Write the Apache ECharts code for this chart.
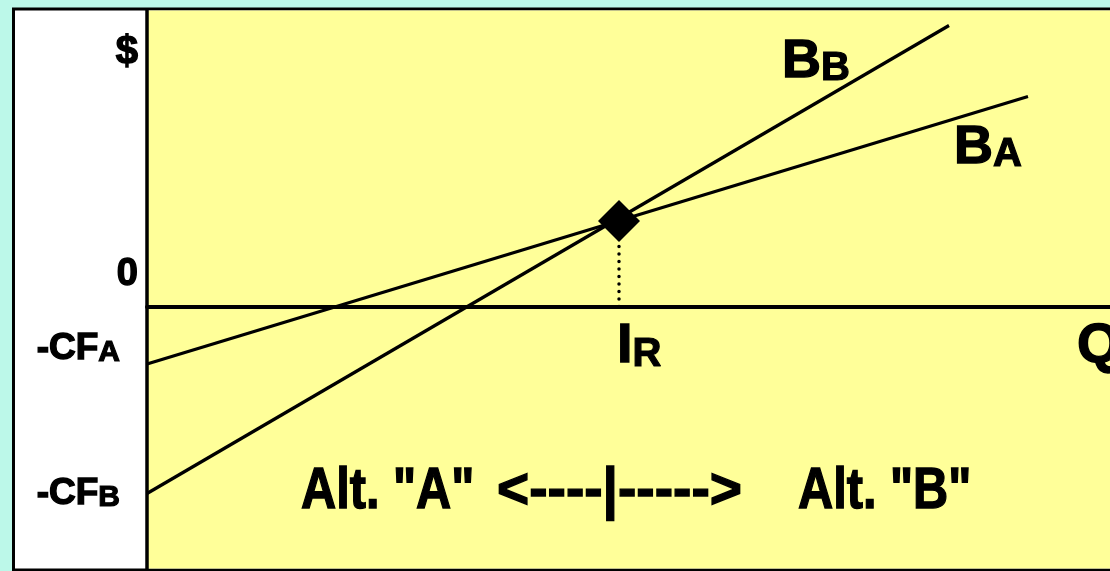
<!DOCTYPE html>
<html><head><meta charset="utf-8">
<script src="https://cdn.jsdelivr.net/npm/echarts@6/dist/echarts.min.js"></script>
<style>html,body{margin:0;padding:0;background:#bcf8e9}#c{width:1110px;height:571px}</style>
</head><body><div id="c"></div><script>
// Axis ranges (arbitrary units: quantity Q on x, $ on y)
const xRange = [0, 96.3];
const yRange = [-26.25, 29.65];
// Benefit lines of the two alternatives
const lineA = [[0, -5.75], [88.1, 21.0]];
const lineB = [[0, -18.7], [80.2, 28.1]];
// Indifference (break-even) point
const breakEven = [[47.2, 8.55]];
const dropLine = [[47.2, 0], [47.2, 8.55]];
// Text labels ("^" separates a subscript)
const yLabels = ['$', '0', '-CF^A', '-CF^B'];
const curveLabels = ['B^B', 'B^A'];
const xLabels = ['I^R', 'Q'];
const bottomTexts = ['Alt. "A"', '<----|----->', 'Alt. "B"'];

const FF = "'Liberation Sans', Arial, sans-serif";
const chart = echarts.init(document.getElementById('c'), null, {renderer: 'canvas'});

function sub(s, big, small) {
  const p = s.split('^');
  const a = {fontSize: big, fontWeight: 'bold', fontFamily: FF, fill: '#000', stroke: '#000', lineWidth: 1.4, verticalAlign: 'bottom'};
  if (p.length === 1) return {text: '{a|' + p[0] + '}', rich: {a: a}};
  return {
    text: '{a|' + p[0] + '}{b|' + p[1] + '}',
    rich: {a: a, b: {fontSize: small, fontWeight: 'bold', fontFamily: FF, fill: '#000', stroke: '#000', lineWidth: 1.2, verticalAlign: 'bottom'}}
  };
}
function txt(label, x, y, big, small, align, extra) {
  const s = sub(label, big, small);
  return Object.assign({
    type: 'text', x: x, y: y, z: 10,
    style: {text: s.text, rich: s.rich, align: align, verticalAlign: 'middle', fontFamily: FF, fontWeight: 'bold', fontSize: big, fill: '#000'}
  }, extra || {});
}

const option = {
  backgroundColor: '#bcf8e9',
  animation: false,
  grid: {left: 147, right: 0, top: 10, bottom: 2, containLabel: false},
  xAxis: {
    type: 'value', min: xRange[0], max: xRange[1],
    axisLine: {show: true, onZero: true, lineStyle: {color: '#000', width: 4}},
    axisTick: {show: false}, axisLabel: {show: false}, splitLine: {show: false}
  },
  yAxis: {
    type: 'value', min: yRange[0], max: yRange[1],
    axisLine: {show: true, onZero: false, lineStyle: {color: '#000', width: 3.5}},
    axisTick: {show: false}, axisLabel: {show: false}, splitLine: {show: false}
  },
  graphic: [
    {type: 'rect', z: -20, silent: true, shape: {x: 13.5, y: 9, width: 1200, height: 561}, style: {fill: '#fff', stroke: '#000', lineWidth: 3}},
    {type: 'rect', z: -19, silent: true, shape: {x: 148, y: 10.5, width: 970, height: 558}, style: {fill: '#ffff99'}},
    txt(yLabels[0], 138, 53, 40, 40, 'right'),
    txt(yLabels[1], 138, 275, 38, 38, 'right'),
    txt(yLabels[2], 120, 349, 37, 30, 'right'),
    txt(yLabels[3], 120, 494, 37, 30, 'right'),
    txt(curveLabels[0], 782, 62, 54, 40, 'left'),
    txt(curveLabels[1], 954, 148, 54, 40, 'left'),
    txt(xLabels[0], 617, 347, 56, 40, 'left'),
    txt(xLabels[1], 1077, 347, 56, 56, 'left'),
    txt(bottomTexts[0], 301, 492, 58, 58, 'left', {scaleX: 0.84, originX: 0}),
    txt(bottomTexts[1], 497, 492, 58, 58, 'left', {scaleX: 0.95, originX: 0}),
    txt(bottomTexts[2], 798, 492, 58, 58, 'left', {scaleX: 0.84, originX: 0})
  ],
  series: [
    {type: 'line', data: lineA, showSymbol: false, lineStyle: {color: '#000', width: 3.2}, z: 3, silent: true},
    {type: 'line', data: lineB, showSymbol: false, lineStyle: {color: '#000', width: 3.2}, z: 3, silent: true},
    {type: 'line', data: dropLine, showSymbol: false, lineStyle: {color: '#000', width: 3.5, type: [0.1, 7.4], cap: 'round'}, z: 2, silent: true},
    {type: 'scatter', data: breakEven, symbol: 'diamond', symbolSize: 42, itemStyle: {color: '#000', opacity: 1}, z: 5, silent: true}
  ]
};
chart.setOption(option);
</script></body></html>
